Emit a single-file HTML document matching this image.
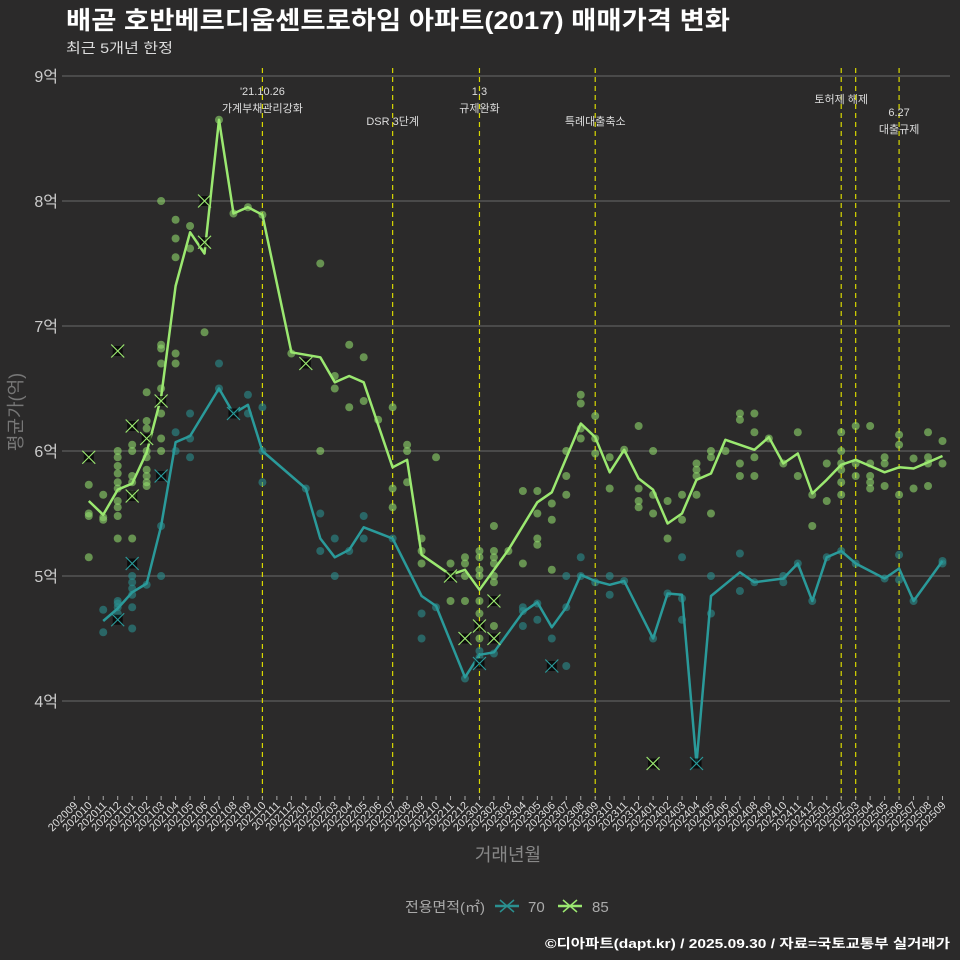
<!DOCTYPE html>
<html><head><meta charset="utf-8"><style>
html,body{margin:0;padding:0;background:#2b2a2a;}
svg{display:block;font-family:"Liberation Sans","Noto Sans CJK KR",sans-serif;}
</style></head><body>
<svg id="chart" width="960" height="960" viewBox="0 0 960 960">
<rect width="960" height="960" fill="#2b2a2a"/>
<text x="66" y="29" fill="#ffffff" font-size="25" font-weight="bold" textLength="664" lengthAdjust="spacingAndGlyphs">배곧 호반베르디움센트로하임 아파트(2017) 매매가격 변화</text>
<text x="66" y="53" fill="#dddddd" font-size="14" textLength="107" lengthAdjust="spacingAndGlyphs">최근 5개년 한정</text>
<g id="grid"></g>
<g id="vlines"></g>
<g id="marks"></g>
<g id="xaxis"></g>
<text x="508" y="861" fill="#888888" font-size="18" text-anchor="middle">거래년월</text>
<text transform="translate(22,412) rotate(-90)" fill="#777777" font-size="18" text-anchor="middle">평균가(억)</text>
<g>
<text x="405" y="912" fill="#aaaaaa" font-size="14" textLength="80" lengthAdjust="spacingAndGlyphs">전용면적(㎡)</text>
<g>
<line x1="495" y1="906" x2="519" y2="906" stroke="#2a9090" stroke-width="2.5"/>
<path d="M500,900 L514,912 M514,900 L500,912" stroke="#2a9090" stroke-width="1.5"/>
<text x="528" y="912" fill="#aaaaaa" font-size="15">70</text></g>
<g>
<line x1="558" y1="906" x2="582" y2="906" stroke="#9be870" stroke-width="2.5"/>
<path d="M563,900 L577,912 M577,900 L563,912" stroke="#9be870" stroke-width="1.5"/>
<text x="592" y="912" fill="#aaaaaa" font-size="15">85</text></g>
</g>
<text x="950" y="948" fill="#ffffff" font-size="13" font-weight="bold" text-anchor="end" textLength="405" lengthAdjust="spacingAndGlyphs">©디아파트(dapt.kr) / 2025.09.30 / 자료=국토교통부 실거래가</text>
</svg>
<script>
const months = [];
for (let y = 2020, m = 9; months.length < 61; ) { months.push(y + String(m).padStart(2, '0')); m++; if (m > 12) { m = 1; y++; } }
const yTicks = [4, 5, 6, 7, 8, 9];
const yTickLabels = ['4억', '5억', '6억', '7억', '8억', '9억'];
const line85 = [null,5.60,5.49,5.69,5.74,5.99,6.43,7.32,7.75,7.58,8.65,7.90,7.95,7.89,null,6.79,null,6.75,6.55,6.60,6.55,null,5.87,5.93,5.17,null,5.01,5.05,4.89,null,5.21,null,5.59,5.67,null,6.22,6.11,5.83,6.01,5.78,5.69,5.42,5.50,5.77,5.82,6.09,6.05,6.01,6.11,5.90,5.98,5.66,5.77,5.89,5.93,5.88,5.83,5.87,5.86,5.91,5.96];
const line70 = [null,null,4.64,4.74,4.87,4.94,5.40,6.07,6.12,null,6.50,6.30,6.37,6.00,null,null,5.70,5.30,5.15,5.21,5.39,null,5.30,null,4.84,4.76,null,4.19,4.37,4.39,null,4.71,4.79,4.59,4.75,5.01,4.96,4.93,4.96,null,4.50,4.86,4.85,3.50,4.84,null,5.03,4.95,null,4.98,5.10,4.80,5.15,5.20,5.10,null,4.98,5.06,4.80,null,5.12];
const pts85 = [[1,5.73],[1,5.50],[1,5.48],[1,5.15],[2,5.65],[2,5.47],[2,5.45],[3,6.00],[3,5.95],[3,5.88],[3,5.82],[3,5.70],[3,5.60],[3,5.55],[3,5.48],[3,5.30],[3,5.75],[4,6.05],[4,6.00],[4,5.80],[4,5.75],[4,5.65],[4,5.30],[5,6.47],[5,6.24],[5,6.18],[5,6.00],[5,5.95],[5,5.85],[5,5.80],[5,5.75],[5,5.72],[6,8.00],[6,6.85],[6,6.82],[6,6.70],[6,6.50],[6,6.30],[6,6.10],[6,6.00],[7,7.85],[7,7.70],[7,7.55],[7,6.78],[7,6.70],[8,7.80],[8,7.62],[9,6.95],[10,8.65],[11,7.90],[12,7.95],[13,7.89],[15,6.78],[17,7.50],[17,6.00],[18,6.60],[18,6.50],[19,6.85],[19,6.35],[20,6.75],[20,6.40],[21,6.25],[22,6.35],[22,5.70],[22,5.55],[23,6.05],[23,6.00],[23,5.75],[24,5.30],[24,5.20],[24,5.10],[25,5.95],[26,4.80],[26,5.10],[27,5.15],[27,5.10],[27,5.00],[27,4.80],[28,5.20],[28,5.15],[28,5.05],[28,5.00],[28,4.80],[28,4.70],[28,4.50],[29,5.40],[29,5.20],[29,5.15],[29,5.10],[29,5.00],[29,4.95],[29,4.60],[30,5.20],[31,5.68],[31,5.10],[32,5.68],[32,5.50],[32,5.30],[32,5.25],[33,5.58],[33,5.45],[33,5.05],[34,6.00],[34,5.80],[34,5.65],[35,6.45],[35,6.38],[35,6.18],[35,6.10],[36,6.28],[36,6.10],[36,5.98],[37,5.95],[37,5.70],[38,6.01],[39,6.20],[39,5.70],[39,5.60],[39,5.55],[40,6.00],[40,5.65],[40,5.50],[41,5.60],[41,5.30],[42,5.65],[42,5.45],[43,5.90],[43,5.80],[43,5.85],[43,5.65],[44,6.00],[44,5.95],[44,5.50],[45,6.00],[46,6.30],[46,6.25],[46,5.90],[46,5.80],[47,6.30],[47,6.15],[47,5.95],[47,5.80],[48,6.10],[49,5.90],[50,6.15],[50,5.80],[51,5.65],[51,5.40],[52,5.90],[52,5.60],[53,6.15],[53,6.00],[53,5.90],[53,5.85],[53,5.75],[53,5.65],[54,6.20],[54,5.90],[54,5.80],[55,6.20],[55,5.90],[55,5.80],[55,5.75],[55,5.70],[56,5.95],[56,5.90],[56,5.72],[57,6.13],[57,6.05],[57,5.65],[58,5.94],[58,5.70],[59,6.15],[59,5.95],[59,5.90],[59,5.72],[60,6.08],[60,5.90]];
const pts70 = [[2,4.73],[2,4.55],[3,4.80],[3,4.78],[3,4.75],[3,4.70],[4,5.00],[4,4.95],[4,4.90],[4,4.85],[4,4.75],[4,4.58],[5,4.93],[6,5.40],[6,5.00],[7,6.15],[7,6.00],[8,6.30],[8,6.10],[8,5.95],[10,6.70],[10,6.50],[12,6.45],[12,6.30],[13,6.35],[13,6.00],[13,5.75],[16,5.70],[17,5.50],[17,5.20],[18,5.30],[18,5.00],[19,5.20],[20,5.48],[20,5.30],[22,5.30],[24,4.70],[24,4.50],[25,4.75],[27,4.18],[28,4.40],[28,4.35],[29,4.38],[31,4.75],[31,4.72],[31,4.60],[32,4.78],[32,4.65],[33,4.50],[34,5.00],[34,4.75],[34,4.28],[35,5.15],[35,5.00],[36,4.95],[37,5.00],[37,4.85],[38,4.96],[40,4.50],[41,4.86],[42,5.15],[42,4.82],[42,4.65],[44,5.00],[44,4.70],[46,5.18],[46,4.88],[47,4.95],[49,5.00],[49,4.95],[50,5.10],[51,4.80],[52,5.15],[53,5.20],[54,5.10],[56,4.98],[57,5.17],[57,4.97],[58,4.80],[60,5.12],[60,5.10]];
const cross85 = [[1,5.95],[3,6.80],[4,6.20],[4,5.64],[5,6.10],[6,6.40],[9,8.00],[9,7.67],[16,6.70],[26,5.00],[27,4.50],[28,4.60],[29,4.80],[29,4.50],[40,3.50]];
const cross70 = [[3,4.65],[4,5.10],[6,5.80],[11,6.30],[28,4.30],[33,4.28],[43,3.50]];
const eventIdx = [13, 22, 28, 36, 53, 54, 57];
const eventLabels = [["'21.10.26","가계부채관리강화"],["","DSR 3단계"],["1.3","규제완화"],["","특례대출축소"],["토허제 해제",""],["",""],["6.27","대출규제"]];

const NS = 'http://www.w3.org/2000/svg';
const X0 = 74.3, DX = 14.47, Y9 = 76, PY = 125;
const xs = i => X0 + DX * i;
const ys = v => Y9 + (9 - v) * PY;
function mk(tag, attrs, parent) { const e = document.createElementNS(NS, tag); for (const k in attrs) e.setAttribute(k, attrs[k]); parent.appendChild(e); return e; }
const grid = document.getElementById('grid'), vl = document.getElementById('vlines'), marks = document.getElementById('marks'), xa = document.getElementById('xaxis');

yTicks.forEach((v, k) => {
  const l = mk('line', {x1: 62, x2: 950, y1: ys(v), y2: ys(v), stroke: '#5e5d5d', 'stroke-width': 1.2}, grid);
  
  
  const t = mk('text', {x: 58, y: ys(v) + 6, fill: '#cccccc', 'font-size': 16, 'text-anchor': 'end'}, grid);
  t.textContent = yTickLabels[k];
  
  
});

eventIdx.forEach((i, k) => {
  const l = mk('line', {x1: xs(i), x2: xs(i), y1: 68, y2: 798, stroke: '#d8d800', 'stroke-width': 1.2, 'stroke-dasharray': '5,4'}, vl);
  
  
  const lab = eventLabels[k];
  let y1 = 95, y2 = 112;
  if (i === 22 || i === 36) y2 = 125;
  if (i === 53) y1 = 103;
  if (i === 57) { y1 = 116; y2 = 133; }
  if (lab[0]) { const t = mk('text', {x: xs(i), y: y1, fill: '#dddddd', 'font-size': 11, 'text-anchor': 'middle'}, vl); t.textContent = lab[0];   }
  if (lab[1]) { const t = mk('text', {x: xs(i), y: y2, fill: '#dddddd', 'font-size': 11, 'text-anchor': 'middle'}, vl); t.textContent = lab[1];   }
});

months.forEach((m, i) => {
  const tk = mk('line', {x1: xs(i), x2: xs(i), y1: 796, y2: 800, stroke: '#aaaaaa', 'stroke-width': 1}, xa);
  
  
  const t = mk('text', {x: xs(i) + 4, y: 806, fill: '#dddddd', 'font-size': 11, 'text-anchor': 'end', transform: 'rotate(-45 ' + (xs(i) + 4) + ' 806)'}, xa);
  t.textContent = m;
  
  
});

function dots(arr, color, name) {
  arr.forEach(p => {
    const c = mk('circle', {cx: xs(p[0]), cy: ys(p[1]), r: 4, fill: color, 'fill-opacity': 0.6}, marks);
    
    
  });
}
function crosses(arr, color, name) {
  arr.forEach(p => {
    const x = xs(p[0]), y = ys(p[1]);
    const g = mk('g', {}, marks);
    
    
    mk('rect', {x: x - 5, y: y - 5, width: 10, height: 10, fill: '#000000', 'fill-opacity': 0.7}, g);
    mk('path', {d: `M${x-6.5},${y-6.5}L${x+6.5},${y+6.5}M${x+6.5},${y-6.5}L${x-6.5},${y+6.5}`, stroke: color, 'stroke-width': 1.2}, g);
  });
}
function line(arr, color, name) {
  const pts = [];
  arr.forEach((v, i) => { if (v !== null) pts.push(xs(i).toFixed(1) + ',' + ys(v).toFixed(1)); });
  const pl = mk('polyline', {points: pts.join(' '), fill: 'none', stroke: color, 'stroke-width': 2.5, 'stroke-linejoin': 'round'}, marks);
  
  
}
dots(pts70, '#2a8f8f', 'point-70');
dots(pts85, '#8fd86c', 'point-85');
line(line70, '#2a9a9a', 'line-70');
line(line85, '#9be870', 'line-85');
crosses(cross70, '#2a9a9a', 'cross-70');
crosses(cross85, '#9be870', 'cross-85');
</script>
</body></html>
